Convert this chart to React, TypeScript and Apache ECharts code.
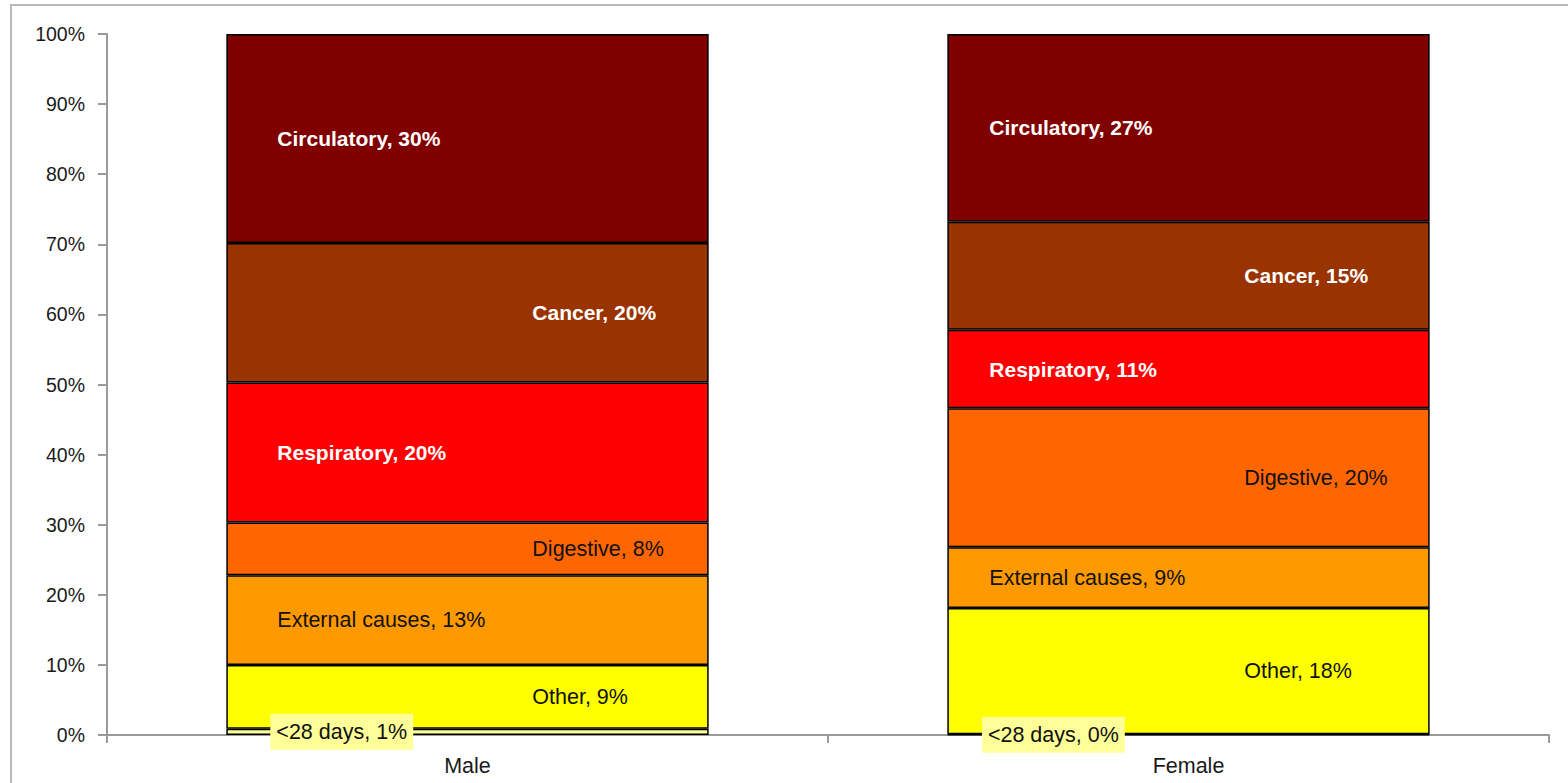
import React, { useEffect, useRef } from "react";
import * as echarts from "echarts";

const categories = ["Male", "Female"];
const seriesNames = ["<28 days", "Other", "External causes", "Digestive", "Respiratory", "Cancer", "Circulatory"];
const maleValues = [0.9, 9.1, 12.8, 7.5, 20.0, 19.9, 29.8];
const femaleValues = [0.1, 18.0, 8.7, 19.8, 11.2, 15.4, 26.8];
const yTicks = [0, 10, 20, 30, 40, 50, 60, 70, 80, 90, 100];

const colors = ["#FFFF99", "#FFFF00", "#FF9900", "#FF6600", "#FF0000", "#993300", "#800000"];
const whiteLabel = [false, false, false, false, true, true, true];
// label side: 0 = left, 1 = right
const labelSide = [0, 1, 0, 1, 0, 1, 0];
const leftOffsets = [51, 42];
const rightOffsets = [306, 297];

const FONT = "'Liberation Sans', Arial, sans-serif";

export default function App() {
  const ref = useRef<HTMLDivElement>(null);
  useEffect(() => {
    if (!ref.current) return;
    const chart = echarts.init(ref.current, null, { renderer: "svg" });
    const allValues = [maleValues, femaleValues];
    const series = seriesNames.map((name, si) => ({
      name,
      type: "bar",
      stack: "total",
      barWidth: "66.9%",
      itemStyle: { color: colors[si], borderColor: "#000", borderWidth: 1.5 },
      data: categories.map((c, ci) => {
        const isBaby = si === 0;
        const x = labelSide[si] === 0 ? leftOffsets[ci] : rightOffsets[ci];
        return {
          value: allValues[ci][si],
          label: {
            show: true,
            position: [isBaby ? x - 7 : x, "50%"],
            align: "left",
            verticalAlign: "middle",
            fontFamily: FONT,
            fontSize: whiteLabel[si] ? 21 : 21.5,
            fontWeight: whiteLabel[si] ? "bold" : "normal",
            color: whiteLabel[si] ? "#ffffff" : "#111111",
            backgroundColor: isBaby ? "#FFFF99" : "transparent",
            padding: isBaby ? [7, 6, 7, 6] : 0,
            formatter: (p: any) => `${p.seriesName}, ${Math.round(p.value)}%`,
          },
        };
      }),
    }));
    chart.setOption({
      animation: false,
      backgroundColor: "#ffffff",
      grid: { left: 107, right: 19, top: 34, bottom: 48 },
      graphic: [
        {
          type: "rect",
          shape: { x: 11, y: 5, width: 1620, height: 820 },
          style: { fill: "none", stroke: "#b8b8b8", lineWidth: 2 },
          silent: true,
        },
      ],
      xAxis: {
        type: "category",
        data: categories,
        axisLine: { lineStyle: { color: "#9a9a9a", width: 2 } },
        axisTick: { show: true, length: 8, lineStyle: { color: "#9a9a9a", width: 2 } },
        axisLabel: { color: "#1a1a1a", fontFamily: FONT, fontSize: 21.5, margin: 20 },
      },
      yAxis: {
        type: "value",
        min: yTicks[0],
        max: yTicks[yTicks.length - 1],
        interval: 10,
        axisLine: { show: true, lineStyle: { color: "#9a9a9a", width: 2 } },
        axisTick: { show: true, length: 9, lineStyle: { color: "#9a9a9a", width: 2 } },
        splitLine: { show: false },
        axisLabel: {
          color: "#1a1a1a",
          fontFamily: FONT,
          fontSize: 19.5,
          margin: 22,
          formatter: "{value}%",
        },
      },
      series,
    });
    return () => chart.dispose();
  }, []);
  return (
    <div
      ref={ref}
      style={{ position: "fixed", left: 0, top: 0, width: 1568, height: 783, background: "#fff" }}
    />
  );
}
